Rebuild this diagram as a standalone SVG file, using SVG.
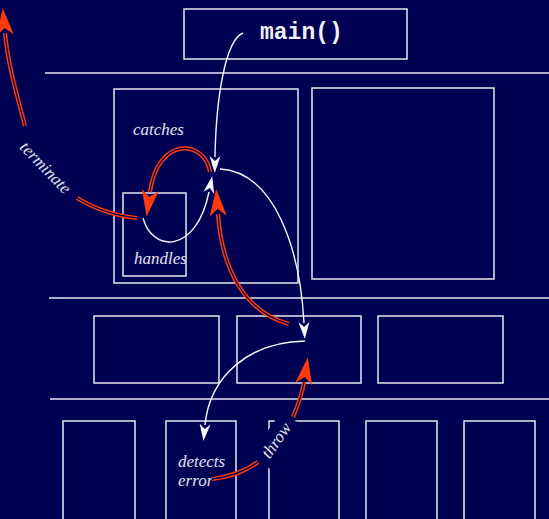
<svg xmlns="http://www.w3.org/2000/svg" width="549" height="519" viewBox="0 0 549 519">
<style>
.bx{fill:none;stroke:#e6e6f0;stroke-width:1.5}
.hl{stroke:#e6e6f0;stroke-width:1.5}
.lbl{font-family:"Liberation Serif",serif;font-style:italic;font-size:17px;fill:#e2e2ee}
.w{fill:none;stroke:#f4f4fa;stroke-width:1.4}
.ro{fill:none;stroke:#ff3a0a;stroke-width:4.2}
.ri{fill:none;stroke:#000052;stroke-width:1.3}
</style>
<defs>
<marker id="wa" markerUnits="userSpaceOnUse" markerWidth="20" markerHeight="20" refX="0" refY="0" orient="auto" overflow="visible">
<path d="M16,0 L-1,-5.5 L4,0 L-1,5.5 Z" fill="#f4f4fa"/>
</marker>
<marker id="ra" markerUnits="userSpaceOnUse" markerWidth="30" markerHeight="30" refX="0" refY="0" orient="auto" overflow="visible">
<path d="M25,0 L-2,-8.5 L5,0 L-2,8.5 Z" fill="#ff3a0a"/>
</marker>
</defs>
<rect width="549" height="519" fill="#000052"/>
<g id="dividers">
<line class="hl" x1="45" y1="73" x2="549" y2="73"/>
<line class="hl" x1="49" y1="298" x2="549" y2="298"/>
<line class="hl" x1="50" y1="399" x2="549" y2="399" stroke="#b8b8cc"/>
</g>
<g id="main">
<rect class="bx" x="184" y="9" width="223" height="50"/>
<text x="260" y="39" font-family="'Liberation Mono',monospace" font-weight="bold" font-size="23" fill="#f0f0f6">main()</text>
</g>
<g id="catcher">
<rect class="bx" x="114" y="89" width="184" height="194"/>
<text class="lbl" x="133" y="135">catches</text>
</g>
<g id="handler">
<rect class="bx" x="123" y="193" width="63" height="83"/>
<text class="lbl" x="134" y="264">handles</text>
</g>
<g id="upper-right"><rect class="bx" x="312" y="88" width="182" height="191"/></g>
<g id="mid1"><rect class="bx" x="94" y="316" width="125" height="67"/></g>
<g id="mid2"><rect class="bx" x="237" y="316" width="124" height="67"/></g>
<g id="mid3"><rect class="bx" x="378" y="316" width="125" height="67"/></g>
<g id="low1"><rect class="bx" x="63" y="421" width="72" height="110"/></g>
<g id="low2">
<rect class="bx" x="166" y="421" width="70" height="110"/>
<text class="lbl" x="178" y="467">detects</text>
<text class="lbl" x="178" y="486">error</text>
</g>
<g id="low3"><rect class="bx" x="269" y="421" width="70" height="110"/></g>
<g id="low4"><rect class="bx" x="366" y="421" width="71" height="110"/></g>
<g id="low5"><rect class="bx" x="464" y="421" width="71" height="110"/></g>
<g id="connectors">
<path class="w" d="M243,33 C225,40 216,100 215,157" marker-end="url(#wa)"/>
<path class="w" d="M220,169 C275,172 300,250 304,323" marker-end="url(#wa)"/>
<path class="w" d="M305,341 C250,342 210,375 205,425" marker-end="url(#wa)"/>
<path class="w" d="M143,218 C152,252 196,255 209,192" marker-end="url(#wa)"/>
<path class="ro" d="M210,172 C205,140 158,135 150,192"/>
<path class="ri" d="M210,172 C205,140 158,135 150,192" marker-end="url(#ra)"/>
<path class="ro" d="M289,324 C245,312 222,270 218,214"/>
<path class="ri" d="M289,324 C245,312 222,270 218,214" marker-end="url(#ra)"/>
<path class="ro" d="M137,218 C118,216 95,209 77,198"/>
<path class="ri" d="M137,218 C118,216 95,209 77,198"/>
<path class="ro" d="M25,126 C17,95 8,65 5,33"/>
<path class="ri" d="M25,126 C17,95 8,65 5,33" marker-end="url(#ra)"/>
<path class="ro" d="M212,479 C230,477 247,470 258,462"/>
<path class="ri" d="M212,479 C230,477 247,470 258,462"/>
<path class="ro" d="M293,417 C298,405 302,395 304,382"/>
<path class="ri" d="M293,417 C298,405 302,395 304,382" marker-end="url(#ra)"/>
<g transform="translate(41.5,171.5) rotate(46)">
<text class="lbl" x="0" y="0" text-anchor="middle">terminate</text>
</g>
<g transform="translate(276.7,440.7) rotate(-55)">
<rect x="-27" y="-13" width="54" height="26" fill="#000052"/>
<text class="lbl" x="0" y="5" text-anchor="middle">throw</text>
</g>
</g>
</svg>
